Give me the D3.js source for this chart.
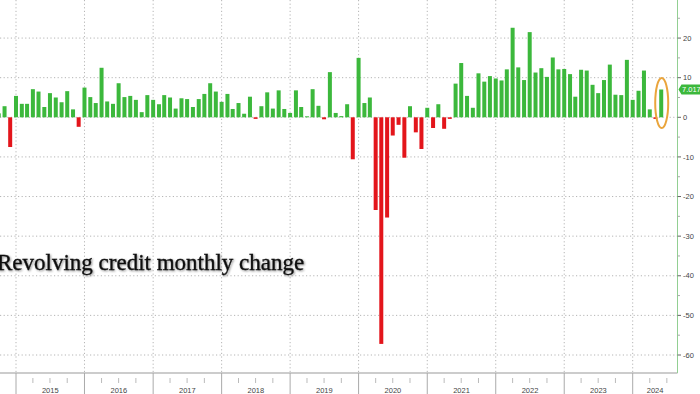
<!DOCTYPE html>
<html>
<head>
<meta charset="utf-8">
<script src="https://cdn.jsdelivr.net/npm/d3@7"></script>
<style>
  body { margin: 0; background: #fff; }
  svg { display: block; }
</style>
</head>
<body>
<svg></svg>
<script>
const width = 700;
const height = 394;

// monthly change in revolving credit, $bn, Oct 2014 .. Jun 2024
const firstMonth = new Date(2014, 9, 1);
const changes = [
  1.0, 2.8, -7.5,
  5.4, 3.4, 3.4, 7.1, 6.5, 2.6, 6.1, 5.0, 3.8, 6.6, 2.0, -2.4,
  7.5, 5.1, 3.6, 12.5, 4.0, 3.4, 8.6, 5.1, 5.4, 4.4, 1.3, 5.6,
  4.4, 3.3, 5.6, 5.0, 2.2, 4.8, 4.6, 2.6, 4.6, 5.9, 8.6, 6.5,
  3.9, 5.9, 2.1, 3.6, 0.9, 5.2, -0.4, 2.8, 6.3, 2.2, 6.8, 2.1,
  1.1, 6.8, 2.6, 0.25, 7.1, 2.9, -0.5, 11.4, 1.1, 0.3, 3.3, -10.6,
  15.0, 3.6, 5.0, -23.4, -57.2, -25.3, -4.6, -1.9, -10.2, 2.8, -3.8, -8.0,
  2.4, -2.7, 3.3, -2.9, -0.4, 8.5, 13.7, 5.4, 2.4, 11.1, 9.0, 10.4,
  9.8, 9.3, 12.1, 22.6, 12.6, 9.4, 21.5, 11.3, 12.4, 10.2, 15.1, 12.1,
  12.2, 10.9, 5.2, 12.0, 11.8, 8.2, 6.1, 9.4, 13.3, 5.7, 5.6, 14.5,
  4.4, 6.7, 11.8, 2.0, -0.4, 7.017
];
const yearLabels = ["2015", "2016", "2017", "2018", "2019", "2020", "2021", "2022", "2023", "2024"];
const yTicks = [20, 10, 0, -10, -20, -30, -40, -50, -60];
const lastLabel = "7.017";
const title = "Revolving credit monthly change";

const months = d3.timeMonth.range(firstMonth, d3.timeMonth.offset(firstMonth, changes.length));
const data = months.map((m, i) => ({ date: m, value: changes[i] }));

const plotRight = 677.5;
const axisY = 373;

const svg = d3.select('svg')
    .attr('width', width).attr('height', height)
    .style('font-family', '"Liberation Sans", Arial, sans-serif');

const x = d3.scaleTime()
    .domain([new Date(2015, 0, 1), new Date(2024, 0, 1)])
    .range([16, 632.7]);
const y = d3.scaleLinear()
    .domain([0, -60])
    .range([117.3, 355]);

const defs = svg.append('defs');
const shadow = defs.append('filter').attr('id', 'shadow')
    .attr('x', '-10%').attr('y', '-40%').attr('width', '120%').attr('height', '180%');
shadow.append('feDropShadow')
    .attr('dx', 1).attr('dy', 1).attr('stdDeviation', 1.3)
    .attr('flood-color', '#000').attr('flood-opacity', 0.45);

// grid
const yearStarts = yearLabels.map(yr => new Date(+yr, 0, 1));
svg.append('g').selectAll('line')
    .data(yTicks)
    .enter().append('line')
    .attr('x1', 0).attr('x2', plotRight)
    .attr('y1', d => y(d)).attr('y2', d => y(d))
    .style('stroke', '#b5b5b5')
    .style('stroke-dasharray', '1.2,2.4');
svg.append('g').selectAll('line')
    .data(yearStarts)
    .enter().append('line')
    .attr('x1', d => x(d)).attr('x2', d => x(d))
    .attr('y1', 0).attr('y2', axisY)
    .style('stroke', '#b5b5b5')
    .style('stroke-dasharray', '1.2,2.4');

// title (left edge of the R is clipped, as in the original)
svg.append('text')
    .attr('x', -3).attr('y', 270)
    .attr('filter', 'url(#shadow)')
    .style('font-family', '"Liberation Serif", "Times New Roman", serif')
    .style('font-size', '23px')
    .style('fill', '#111')
    .style('stroke', '#111')
    .style('stroke-width', 0.35)
    .text(title);

// bars
svg.append('g').selectAll('rect')
    .data(data)
    .enter().append('rect')
    .attr('x', d => x(d.date) - 2)
    .attr('width', 4)
    .attr('y', d => y(Math.max(0, d.value)))
    .attr('height', d => Math.max(0.8, Math.abs(y(d.value) - y(0))))
    .style('fill', d => d.value >= 0 ? '#3cb83c' : '#e3151b');

// highlight last bar
const last = data[data.length - 1];
svg.append('ellipse')
    .attr('cx', x(last.date) + 0.5).attr('cy', 103)
    .attr('rx', 6.5).attr('ry', 25)
    .style('fill', 'none')
    .style('stroke', '#eaa53c')
    .style('stroke-width', 2);

// bottom axis
svg.append('line')
    .attr('x1', 0).attr('x2', plotRight)
    .attr('y1', axisY).attr('y2', axisY)
    .style('stroke', '#999');
svg.append('g').selectAll('line')
    .data(yearStarts)
    .enter().append('line')
    .attr('x1', d => x(d)).attr('x2', d => x(d))
    .attr('y1', axisY).attr('y2', height)
    .style('stroke', '#aaa');
const quarters = d3.timeMonth.every(3).range(new Date(2014, 9, 1), new Date(2024, 9, 1))
    .filter(d => d.getMonth() !== 0 && x(d) < plotRight);
svg.append('g').selectAll('line')
    .data(quarters)
    .enter().append('line')
    .attr('x1', d => x(d)).attr('x2', d => x(d))
    .attr('y1', axisY + 5).attr('y2', axisY + 10)
    .style('stroke', '#bbb');
svg.append('g').selectAll('text')
    .data(yearLabels)
    .enter().append('text')
    .attr('x', (d, i) => {
        const a = x(yearStarts[i]);
        const b = Math.min(plotRight, x(new Date(+d + 1, 0, 1)));
        return (a + b) / 2;
    })
    .attr('y', 392.5)
    .attr('text-anchor', 'middle')
    .style('font-size', '7.5px')
    .style('fill', '#444')
    .text(d => d);

// right axis
svg.append('line')
    .attr('x1', plotRight).attr('x2', plotRight)
    .attr('y1', 0).attr('y2', axisY)
    .style('stroke', '#92cf92');
const minor = d3.range(25, -65, -5).filter(v => v % 10 !== 0);
svg.append('g').selectAll('line')
    .data(minor)
    .enter().append('line')
    .attr('x1', plotRight).attr('x2', plotRight + 2.5)
    .attr('y1', d => y(d)).attr('y2', d => y(d))
    .style('stroke', '#aaa');
const yAxis = svg.append('g').selectAll('g')
    .data(yTicks)
    .enter().append('g')
    .attr('transform', d => `translate(${plotRight},${y(d)})`);
yAxis.append('line')
    .attr('x1', 0).attr('x2', 3.5)
    .style('stroke', '#666');
yAxis.append('text')
    .attr('x', 5.5).attr('dy', '0.35em')
    .style('font-size', '7.5px')
    .style('fill', '#444')
    .text(d => d);

// last value tag
const tagY = 89.5;
svg.append('path')
    .attr('d', `M${plotRight + 1},${tagY} L${plotRight + 4},${tagY - 5} L${width + 2},${tagY - 5} L${width + 2},${tagY + 5} L${plotRight + 4},${tagY + 5} Z`)
    .style('fill', '#3cb83c');
svg.append('text')
    .attr('x', plotRight + 4.5).attr('y', tagY).attr('dy', '0.35em')
    .style('font-size', '7.5px')
    .style('fill', '#fff')
    .text(lastLabel);
</script>
</body>
</html>
